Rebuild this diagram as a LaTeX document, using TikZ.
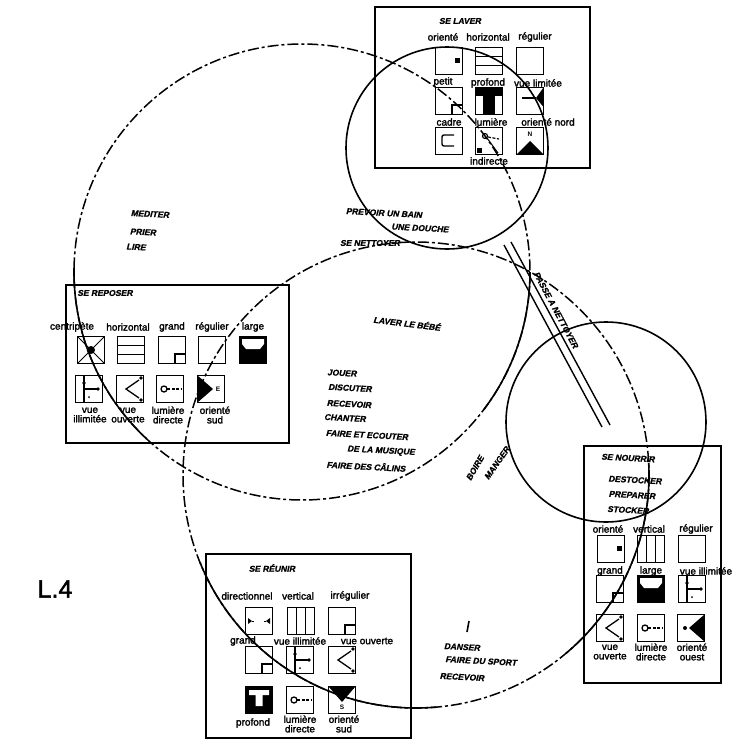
\documentclass[tikz,border=0pt]{standalone}
\usepackage{fontspec}
\usetikzlibrary{calc}
\setmainfont{Liberation Sans}
\newfontfamily\printfont[FakeBold=2]{Liberation Sans}
\newfontfamily\handfont[UprightFont=* Bold, FakeSlant=0.2, FakeBold=1]{Liberation Sans}

\tikzset{
    x=1pt, y=-1pt,
    ring/.style={line width=1.6pt},
    ringdash/.style={line width=1.5pt, dash pattern=on 11pt off 3pt on 3pt off 3pt},
    room/.style={draw, line width=1.5pt, anchor=north west, inner sep=0pt},
    printed/.style={font=\printfont\fontsize{10}{9.5}\selectfont, inner sep=0pt, align=center},
    hand/.style={font=\handfont\fontsize{8.5}{8.5}\selectfont, inner sep=0pt},
    compass/.style={font=\bfseries\fontsize{6.5}{6.5}\selectfont, inner sep=0pt},
    % icons, all drawn round the origin of a pic
    frame/.pic={\draw[line width=1.8pt] (-13.5,-13.5) rectangle (13.5,13.5);},
    plain/.pic={\pic {frame};},
    doormark/.pic={\pic {frame}; \fill (6,-3) rectangle (11,2);},
    doors/.pic={\pic {frame}; \fill (-11,-3) -- (-7,0) -- (-11,3) -- cycle; \fill (11,-3) -- (7,0) -- (11,3) -- cycle; \draw[line width=1pt] (-7,0) -- (-5,0) (5,0) -- (7,0);},
    rows/.pic={\pic {frame}; \draw[line width=1.8pt] (-13,-4.5) -- (13,-4.5) (-13,4.5) -- (13,4.5);},
    cols/.pic={\pic {frame}; \draw[line width=1.8pt] (-4.5,-13) -- (-4.5,13) (4.5,-13) -- (4.5,13);},
    corner/.pic={\pic {frame}; \draw[line width=1.6pt] (3,13) -- (3,4) -- (13,4);},
    cross/.pic={\pic {frame}; \draw[line width=1pt] (-13,-13) -- (13,13) (-13,13) -- (13,-13); \fill (0,0) circle[radius=4];},
    deep/.pic={\pic {frame}; \fill (-13.5,-13.5) rectangle (13.5,13.5); \fill[white] (-10,-10) rectangle (10,-5) (-3.5,-5) rectangle (3.5,6);},
    blackt/.pic={\pic {frame}; \fill (-13.5,-13.5) rectangle (13.5,-5); \fill (-6,-5) rectangle (6,13.5);},
    wide/.pic={\pic {frame}; \fill (-13.5,-13.5) rectangle (13.5,13.5); \fill[white] (-11,-11) -- (11,-11) -- (11,-6) -- (7,-1) -- (-7,-1) -- (-11,-6) -- cycle;},
    vuelim/.pic={\pic {frame}; \draw[line width=1.2pt] (-5,-13) -- (-5,13) (-5,0) -- (10,0); \fill (-5,-6) circle[radius=1.8] (9,0) circle[radius=1.8] (0,8) circle[radius=1];},
    vueouv/.pic={\pic {frame}; \draw[line width=1.3pt] (9,-9) -- (-4,0) -- (9,9); \fill (11,-11) circle[radius=1.8] (11,11) circle[radius=1.8];},
    direct/.pic={\pic {frame}; \draw[line width=1.3pt] (-6,0) circle[radius=3]; \draw[line width=1.3pt,dash pattern=on 3pt off 1.5pt] (-3,0) -- (11,0);},
    indirect/.pic={\pic {frame}; \draw[line width=1.2pt] (-4,-5) circle[radius=2.5]; \draw[line width=1.2pt,dash pattern=on 3pt off 1.5pt] (-1,-4) -- (10,-2); \draw[line width=1pt] (-2,-3) -- (9,12); \fill (-12,7) rectangle (-7,12);},
    inner/.pic={\pic {frame}; \draw[line width=1.4pt, rounded corners=2pt] (5,-6) -- (-7,-6) -- (-7,5) -- (5,5);},
    nord/.pic={\pic {frame}; \fill (-13.5,13.5) -- (0,0) -- (13.5,13.5) -- cycle;},
    sud/.pic={\pic {frame}; \fill (-13.5,-13.5) -- (0,2) -- (13.5,-13.5) -- cycle;},
    est/.pic={\pic {frame}; \fill (-13.5,-13.5) -- (2,0) -- (-13.5,13.5) -- cycle;},
    ouest/.pic={\pic {frame}; \fill (13.5,-13.5) -- (-2,0) -- (13.5,13.5) -- cycle; \fill (-6,0) circle[radius=2];},
    slant/.pic={\pic {frame}; \draw[line width=1.2pt] (-8,-3) -- (6,-3); \fill (13.5,-13.5) -- (13.5,6) -- (6,-3) -- cycle;},
}

\begin{document}
\begin{tikzpicture}
    \useasboundingbox (0,0) rectangle (734,742);
    \fill[white] (0,0) rectangle (734,742);

    % Rooms
    \node[room, minimum width=215pt, minimum height=161pt] (laver) at (374,6) {};
    \node[room, minimum width=223pt, minimum height=158pt] (reposer) at (65,284) {};
    \node[room, minimum width=205pt, minimum height=184pt] (reunir) at (205,553) {};
    \node[room, minimum width=137pt, minimum height=237pt] (nourrir) at (583,445) {};

    % Icons
    \foreach \kind/\x/\y in {doormark/449/61, rows/489/61, plain/530/61,
            corner/449/101, blackt/489/101, slant/530/101,
            inner/449/141, indirect/489/141, nord/530/141,
            cross/91/350, rows/131/350, corner/172/350, plain/212/350, wide/253/350,
            vuelim/89/389, vueouv/130/389, direct/170/389, est/211/389,
            doors/259/621, cols/301/621, corner/342/621,
            corner/259/660, vuelim/300/660, vueouv/342/660,
            deep/259/700, direct/300/700, sud/342/700,
            doormark/611/549, cols/651/549, plain/692/549,
            corner/610/589, wide/651/589, vuelim/692/589,
            vueouv/610/628, direct/651/628, ouest/691/628}
        \pic at (\x,\y) {\kind};
    \node[compass] (markn) at (530,134) {N};
    \node[compass] (marke) at (218,389) {E};
    \node[compass] (marks) at (342,707) {S};

    % Circles
    \coordinate (bigc) at (302,272);
    \coordinate (lowc) at (416,475);
    \draw[ringdash] (bigc) circle[radius=228];
    \draw[ringdash] (lowc) circle[radius=233];
    \draw[ring] (447,148) circle[radius=101];
    \draw[ring] (606,422) circle[radius=100];
    \draw[ring] (bigc) ++(181:228) arc[start angle=181, end angle=133, radius=228];
    \draw[ring] (bigc) ++(0:228) arc[start angle=0, end angle=37, radius=228];
    \draw[ring] (lowc) ++(158:233) arc[start angle=158, end angle=85, radius=233];
    \draw[ring] (lowc) ++(-3:233) arc[start angle=-3, end angle=50, radius=233];

    % Passage
    \coordinate (pa) at (504,245);
    \coordinate (pb) at (602,427);
    \coordinate (pc) at (511,242);
    \coordinate (pd) at (610,425);
    \draw[line width=1.4pt] (pa) -- (pb);
    \draw[line width=1.4pt] (pc) -- (pd);
    \node[hand, rotate=-62] (passe) at (556,310) {PASSE A NETTOYER};

    % Printed labels
    \foreach \x/\y/\t [count=\i] in {443/37/orienté, 488/37/horizontal, 535/37/régulier,
            443/82/petit, 488/83/profond, 538/83/vue limitée,
            449/122/cadre, 491/122/lumière, 548/122/orienté nord, 489/161/indirecte,
            72/327/centripète, 128/327/horizontal, 172/327/grand, 212/327/régulier, 253/327/large,
            90/415/{vue\\illimitée}, 128/415/{vue\\ouverte}, 168/415/{lumière\\directe}, 215/415/{orienté\\sud},
            247/596/directionnel, 298/596/vertical, 350/596/irrégulier,
            243/641/grand, 300/641/vue illimitée, 367/641/vue ouverte,
            253/723/profond, 300/724/{lumière\\directe}, 344/724/{orienté\\sud},
            608/529/orienté, 649/529/vertical, 696/529/régulier,
            610/571/grand, 651/571/large, 706/571/vue illimitée,
            610/652/{vue\\ouverte}, 651/652/{lumière\\directe}, 692/652/{orienté\\ouest}}
        \node[printed] (lab\i) at (\x,\y) {\t};

    % Handwritten words
    \foreach \x/\y/\a/\t [count=\i] in {
            460/21/0/SE LAVER, 105/293/0/SE REPOSER, 272/568/0/SE RÉUNIR,
            150/214/-3/MEDITER, 143/232/-3/PRIER, 136/247/-3/LIRE,
            384/213/-3/PREVOIR UN BAIN, 420/228/-3/UNE DOUCHE, 370/243/0/SE NETTOYER,
            407/323/-7/LAVER LE BÉBÉ,
            342/373/-3/JOUER, 350/388/-3/DISCUTER, 349/404/-3/RECEVOIR, 345/418/-3/CHANTER,
            367/435/-3/FAIRE ET ECOUTER, 381/451/-3/DE LA MUSIQUE, 366/466/-3/FAIRE DES CÂLINS,
            475/468/60/BOIRE, 497/463/55/MANGER,
            462/647/-3/DANSER, 481/661/-3/FAIRE DU SPORT, 462/677/-3/RECEVOIR,
            628/458/-3/SE NOURRIR, 635/480/-3/DESTOCKER, 632/495/-3/PREPARER, 628/510/-3/STOCKER}
        \node[hand, rotate=\a] (word\i) at (\x,\y) {\t};
    \draw[line width=1.6pt] (469,621) -- (467,632);

    % Plate number
    \node[font=\printfont\fontsize{25}{25}\selectfont, inner sep=0pt] (plate) at (55,589) {L.4};
\end{tikzpicture}
\end{document}
